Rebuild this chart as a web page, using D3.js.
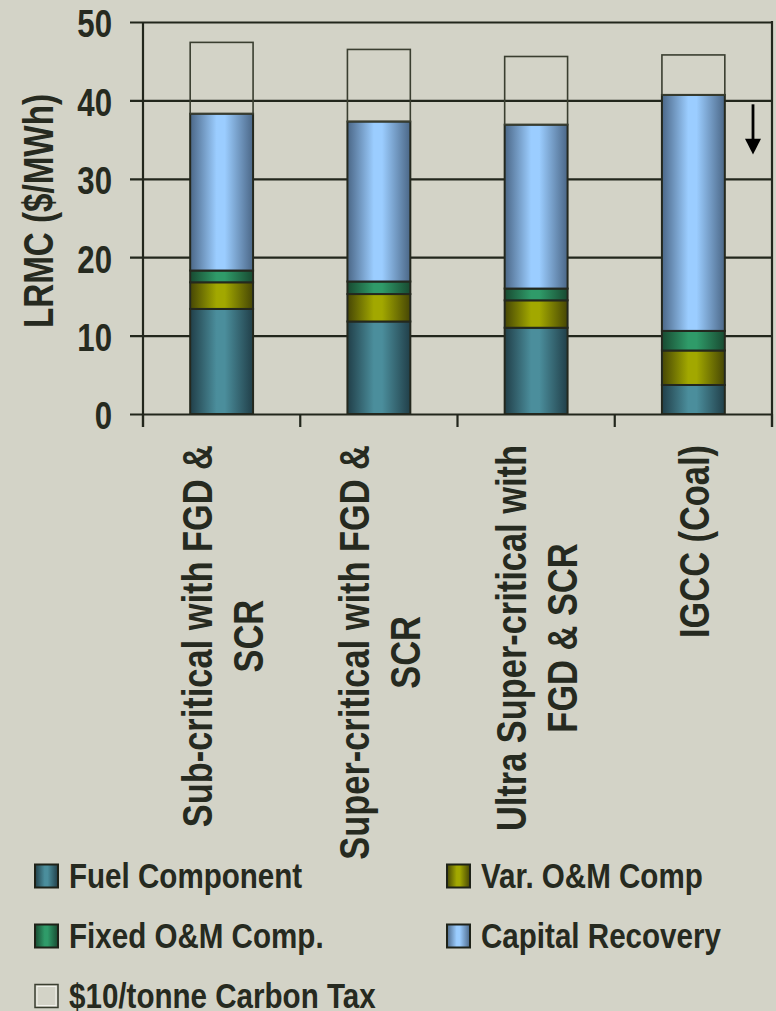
<!DOCTYPE html>
<html>
<head>
<meta charset="utf-8">
<script src="https://cdn.jsdelivr.net/npm/d3@7"></script>
<style>
  html, body { margin: 0; padding: 0; background: #d3d3c7; }
  svg { display: block; }
  text { font-family: "Liberation Sans", Arial, sans-serif; font-weight: bold; fill: #262a20; }
</style>
</head>
<body>
<div id="chart"></div>
<script>
// chart data
var categories = ['Sub-critical with FGD & SCR', 'Super-critical with FGD & SCR', 'Ultra Super-critical with FGD & SCR', 'IGCC (Coal)'];
var categoryLines = [['Sub-critical with FGD &', 'SCR'], ['Super-critical with FGD &', 'SCR'], ['Ultra Super-critical with', 'FGD & SCR'], ['IGCC (Coal)']];
var fuelComponent = [13.4, 11.8, 11.0, 3.7];
var varOMComp = [3.4, 3.5, 3.5, 4.4];
var fixedOMComp = [1.5, 1.6, 1.5, 2.5];
var capitalRecovery = [20.0, 20.4, 20.9, 30.1];
var carbonTax = [9.1, 9.2, 8.7, 5.1];
var seriesNames = ['Fuel Component', 'Var. O&M Comp', 'Fixed O&M Comp.', 'Capital Recovery', '$10/tonne Carbon Tax'];
var yTicks = [0, 10, 20, 30, 40, 50];
var yTitle = 'LRMC ($/MWh)';

var series = [fuelComponent, varOMComp, fixedOMComp, capitalRecovery, carbonTax];
var shades = [
  { id: 'g0', edge: '#213f49', mid: '#4b8e9c' },
  { id: 'g1', edge: '#464605', mid: '#a2a800' },
  { id: 'g2', edge: '#184a31', mid: '#2f9b69' },
  { id: 'g3', edge: '#4b6787', mid: '#9bcdff' },
  null
];

var W = 776, H = 1011;
var line = '#22261c';
var sx = 0.8; // narrow font

var svg = d3.select('#chart').append('svg').attr('width', W).attr('height', H);

var defs = svg.append('defs');
shades.forEach(function (s) {
  if (!s) return;
  var g = defs.append('linearGradient').attr('id', s.id).attr('x1', '0').attr('x2', '1').attr('y1', '0').attr('y2', '0');
  g.append('stop').attr('offset', '0%').attr('stop-color', s.edge);
  g.append('stop').attr('offset', '42%').attr('stop-color', s.mid);
  g.append('stop').attr('offset', '55%').attr('stop-color', s.mid);
  g.append('stop').attr('offset', '100%').attr('stop-color', s.edge);
});

var x = d3.scaleBand().domain(categories).range([143, 772]).paddingInner(0.6).paddingOuter(0.3);
var y = d3.scaleLinear().domain([0, 50]).range([414, 22]);

// gridlines + y ticks
var yAxis = svg.append('g').attr('transform', 'translate(130,0)')
  .call(d3.axisLeft(y).tickValues(yTicks).tickSizeInner(-(772 - 130)).tickSizeOuter(0).tickPadding(18));
yAxis.select('.domain').remove();
yAxis.selectAll('line').attr('stroke', line).attr('stroke-width', 2.2);
yAxis.selectAll('text')
  .attr('x', 0).attr('dy', null)
  .attr('dominant-baseline', 'central')
  .attr('transform', 'translate(-18,1) scale(' + sx + ',1)')
  .style('font-size', '39px').attr('fill', '#262a20');

// axis lines
svg.append('line').attr('x1', 143).attr('x2', 143).attr('y1', y(50)).attr('y2', 427).attr('stroke', line).attr('stroke-width', 2.2);
svg.append('line').attr('x1', 772).attr('x2', 772).attr('y1', y(50) - 1).attr('y2', 427).attr('stroke', line).attr('stroke-width', 2.2);

var bounds = categories.map(function (c) { return x(c) - x.step() * 0.3; });
bounds.push(x(categories[categories.length - 1]) + x.bandwidth() + x.step() * 0.3);
svg.selectAll('.ctick').data(bounds).enter().append('line')
  .attr('x1', function (d) { return d; }).attr('x2', function (d) { return d; })
  .attr('y1', y(0)).attr('y2', 427).attr('stroke', line).attr('stroke-width', 2.2);

// stacked bars
var rows = categories.map(function (c, i) {
  var o = { cat: c };
  series.forEach(function (s, k) { o['s' + k] = s[i]; });
  return o;
});
var stack = d3.stack().keys(series.map(function (s, k) { return 's' + k; }))(rows);

stack.forEach(function (layer, k) {
  svg.append('g').selectAll('rect').data(layer).enter().append('rect')
    .attr('x', function (d) { return x(d.data.cat); })
    .attr('width', x.bandwidth())
    .attr('y', function (d) { return y(d[1]); })
    .attr('height', function (d) { return y(d[0]) - y(d[1]); })
    .attr('fill', shades[k] ? 'url(#' + shades[k].id + ')' : 'none')
    .attr('stroke', shades[k] ? '#24281e' : '#3a3e30')
    .attr('stroke-width', shades[k] ? 2 : 1.6);
});

// arrow annotation
var ax = 753;
svg.append('line').attr('x1', ax).attr('x2', ax).attr('y1', y(39.5)).attr('y2', y(34.2)).attr('stroke', '#000').attr('stroke-width', 2.8);
svg.append('path')
  .attr('d', 'M' + (ax - 8) + ',' + y(35.1) + 'L' + (ax + 8) + ',' + y(35.1) + 'L' + ax + ',' + y(33.1) + 'Z')
  .attr('fill', '#000');

// y title
svg.append('text')
  .attr('transform', 'translate(53,211) rotate(-90) scale(0.79,1)')
  .attr('text-anchor', 'middle')
  .style('font-size', '42px')
  .text(yTitle);

// category labels
var lineGap = 51;
categoryLines.forEach(function (lines, i) {
  var cx = x(categories[i]) + x.bandwidth() / 2;
  var g = svg.append('g');
  var texts = lines.map(function (t, j) {
    return g.append('text')
      .attr('text-anchor', 'middle')
      .attr('y', (j - (lines.length - 1) / 2) * lineGap + 15.5)
      .style('font-size', '43px')
      .text(t);
  });
  var maxLen = d3.max(texts, function (t) { return t.node().getComputedTextLength(); }) * sx;
  g.attr('transform', 'translate(' + cx + ',' + (445 + maxLen / 2) + ') rotate(-90) scale(' + sx + ',1)');
});

// legend
var legendPos = [[35, 876], [447, 876], [35, 936], [447, 936], [35, 996]];
seriesNames.forEach(function (name, k) {
  var p = legendPos[k];
  var g = svg.append('g').attr('transform', 'translate(' + p[0] + ',' + p[1] + ')');
  if (shades[k]) {
    g.append('rect').attr('x', 0).attr('y', -11.5).attr('width', 23).attr('height', 23)
      .attr('fill', 'url(#' + shades[k].id + ')').attr('stroke', '#1e2218').attr('stroke-width', 2);
  } else {
    g.append('rect').attr('x', 0).attr('y', -11.5).attr('width', 23).attr('height', 23)
      .attr('fill', 'none').attr('stroke', '#3a3e30').attr('stroke-width', 1.5);
    g.append('rect').attr('x', 2).attr('y', -9.5).attr('width', 19).attr('height', 19)
      .attr('fill', 'none').attr('stroke', '#f2f2ec').attr('stroke-width', 1);
  }
  g.append('text')
    .attr('transform', 'translate(34,12) scale(0.845,1)')
    .style('font-size', '35px')
    .text(name);
});
</script>
</body>
</html>
